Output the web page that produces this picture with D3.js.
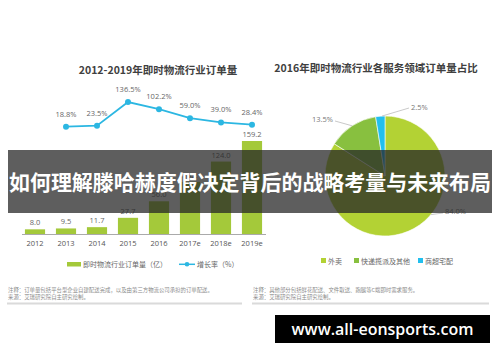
<!DOCTYPE html>
<html><head><meta charset="utf-8">
<script src="https://cdn.jsdelivr.net/npm/d3@7"></script>
<style>
html,body{margin:0;padding:0;background:#fff;}
svg{display:block;}
text{font-family:"Open Sans","Noto Sans CJK SC",sans-serif;}
.cjk{font-family:"Noto Sans CJK SC","Open Sans",sans-serif;}
</style></head>
<body>
<svg id="c" width="500" height="362"></svg>
<script>
// ---- data ----
const years = ["2012","2013","2014","2015","2016","2017e","2018e","2019e"];
const orders = [8.0, 9.5, 11.7, 27.7, 56.0, 89.2, 124.0, 159.2];
const growthYears = ["2013","2014","2015","2016","2017e","2018e","2019e"];
const growth = [18.8, 23.5, 136.5, 102.2, 59.0, 39.0, 28.4];
const pieLabels = ["外卖", "快递揽派及其他", "商超宅配"];
const pieValues = [84.0, 13.5, 2.5];

const leftTitle = "2012-2019年即时物流行业订单量";
const rightTitle = "2016年即时物流行业各服务领域订单量占比";
const barLegend = "即时物流行业订单量（亿）";
const lineLegend = "增长率（%）";
const leftNotes = ["注释：订单量包括平台型企业自建配送完成，以及由第三方物流公司承担的订单配送。", "来源：艾瑞研究院自主研究绘制。"];
const rightNotes = ["注释：其他部分包括鲜花配送、文件取送、跑腿等C端即时需求服务。", "来源：艾瑞研究院自主研究绘制。"];
const bannerText = "如何理解滕哈赫度假决定背后的战略考量与未来布局";
const watermark = "www.all-eonsports.com";

// ---- styles ----
const barColor = "#a4c93a";
const lineColor = "#2cb7e2";
const pieColors = ["#b3d234", "#88c03f", "#22bfee"];

const svg = d3.select("#c");

// ---- left chart ----
const x = d3.scaleBand().domain(years).range([19.5, 267.5]).paddingInner(0.35).paddingOuter(0.175);
const y = d3.scaleLinear().domain([0, 159.2]).range([234, 141]);
const y2 = d3.scaleLinear().domain([0, 136.5]).range([130.6, 102]);

svg.append("text").attr("class","cjk").attr("x", 158).attr("y", 74).attr("text-anchor","middle")
  .attr("font-size", 10.5).attr("font-weight", "bold").attr("fill", "#404040").text(leftTitle);

svg.selectAll("rect.bar").data(orders).join("rect").attr("class","bar")
  .attr("x", (d,i) => x(years[i])).attr("width", x.bandwidth())
  .attr("y", d => y(d)).attr("height", d => y(0) - y(d)).attr("fill", barColor);

svg.selectAll("text.bl").data(orders).join("text").attr("class","bl")
  .attr("x", (d,i) => x(years[i]) + x.bandwidth()/2).attr("y", d => y(d) - 4)
  .attr("text-anchor","middle").attr("font-size", 7.5).attr("fill","#666").text(d => d.toFixed(1));

const xAxis = svg.append("g").attr("transform", `translate(0,${y(0)})`)
  .call(d3.axisBottom(x).tickSize(0).tickPadding(7));
xAxis.select(".domain").attr("stroke", "#aaa").attr("stroke-width", 1).attr("d", "M22,0.5H266");
xAxis.selectAll("text").attr("font-size", 7.5).attr("fill", "#555")
  .attr("font-family", "'Open Sans',sans-serif");

const line = d3.line().x((d,i) => x(growthYears[i]) + x.bandwidth()/2).y(d => y2(d));
svg.append("path").datum(growth).attr("d", line).attr("fill","none").attr("stroke", lineColor).attr("stroke-width", 1.8);
svg.selectAll("circle.pt").data(growth).join("circle").attr("class","pt")
  .attr("cx", (d,i) => x(growthYears[i]) + x.bandwidth()/2).attr("cy", d => y2(d)).attr("r", 3).attr("fill", lineColor);
svg.selectAll("text.gl").data(growth).join("text").attr("class","gl")
  .attr("x", (d,i) => x(growthYears[i]) + x.bandwidth()/2).attr("y", d => y2(d) - 10)
  .attr("text-anchor","middle").attr("font-size", 7.5).attr("fill","#666").text(d => d.toFixed(1) + "%");

// left legend
const lg = svg.append("g");
lg.append("rect").attr("x", 67).attr("y", 262).attr("width", 14).attr("height", 4.5).attr("fill", barColor);
lg.append("text").attr("class","cjk").attr("x", 83).attr("y", 267).attr("font-size", 7).attr("fill","#666").text(barLegend);
lg.append("line").attr("x1", 179).attr("x2", 195).attr("y1", 264.3).attr("y2", 264.3).attr("stroke", lineColor).attr("stroke-width", 1.5);
lg.append("circle").attr("cx", 187).attr("cy", 264.3).attr("r", 2.3).attr("fill", lineColor);
lg.append("text").attr("class","cjk").attr("x", 197).attr("y", 267).attr("font-size", 7).attr("fill","#666").text(lineLegend);

// ---- right chart ----
svg.append("text").attr("class","cjk").attr("x", 376).attr("y", 72).attr("text-anchor","middle")
  .attr("font-size", 10.5).attr("font-weight", "bold").attr("fill", "#404040").text(rightTitle);

const cx = 385, cy = 176, R = 60;
const pie = d3.pie().sort(null)(pieValues);
const arc = d3.arc().innerRadius(0).outerRadius(R);
const pg = svg.append("g").attr("transform", `translate(${cx},${cy})`);
pg.selectAll("path").data(pie).join("path").attr("d", arc)
  .attr("fill", (d,i) => pieColors[i]).attr("stroke", "#fff").attr("stroke-width", 0.6);

// pie labels with leader lines
const labelLayout = [
  {ang: 2.27, lx: 445, ly: 214, anchor: "start", ex: 443, ey: 213},
  {ang: -0.58, lx: 333, ly: 122, anchor: "end", ex: 335, ey: 121},
  {ang: -0.05, lx: 411, ly: 110, anchor: "start", ex: 409, ey: 108}
];
pie.forEach((p, i) => {
  const L = labelLayout[i];
  const sx = cx + R * Math.sin(L.ang), sy = cy - R * Math.cos(L.ang);
  svg.append("line").attr("x1", sx).attr("y1", sy).attr("x2", L.ex).attr("y2", L.ey)
    .attr("stroke", "#bbb").attr("stroke-width", 0.8);
  svg.append("text").attr("x", L.lx).attr("y", L.ly).attr("text-anchor", L.anchor)
    .attr("font-size", 7.5).attr("fill", "#777").text(pieValues[i].toFixed(1) + "%");
});

// right legend
const legX = [321, 354, 418];
pieLabels.forEach((t, i) => {
  svg.append("rect").attr("x", legX[i]).attr("y", 258).attr("width", 5).attr("height", 5).attr("fill", pieColors[i]);
  svg.append("text").attr("class","cjk").attr("x", legX[i] + 7).attr("y", 263.5).attr("font-size", 7).attr("fill","#666").text(t);
});

// notes
function notes(lines, x0, x1) {
  lines.forEach((t, i) => {
    svg.append("text").attr("class","cjk").attr("x", x0).attr("y", 292 + i*6.6)
      .attr("font-size", 5.4).attr("fill", "#8a8a8a").text(t);
  });
  svg.append("line").attr("x1", x0 - 1).attr("x2", x1).attr("y1", 303.5).attr("y2", 303.5)
    .attr("stroke", "#dadada").attr("stroke-width", 2);
}
notes(leftNotes, 8, 242);
notes(rightNotes, 253, 489);

// banner overlay
svg.append("rect").attr("x", 8).attr("y", 150).attr("width", 484).attr("height", 63).attr("fill", "rgba(38,38,38,0.74)");
svg.append("text").attr("class","cjk").attr("x", 250).attr("y", 189.5).attr("text-anchor","middle")
  .attr("font-size", 21).attr("font-weight","bold").attr("fill","#fff").attr("textLength", 482).attr("lengthAdjust","spacingAndGlyphs")
  .text(bannerText);

// watermark
svg.append("rect").attr("x", 275).attr("y", 315).attr("width", 215).attr("height", 28).attr("fill", "#000");
svg.append("text").attr("x", 382.5).attr("y", 334.5).attr("text-anchor","middle")
  .attr("font-size", 16).attr("font-weight","600").attr("fill","#fff").attr("font-family","'Open Sans',sans-serif")
  .text(watermark);
</script>
</body></html>
